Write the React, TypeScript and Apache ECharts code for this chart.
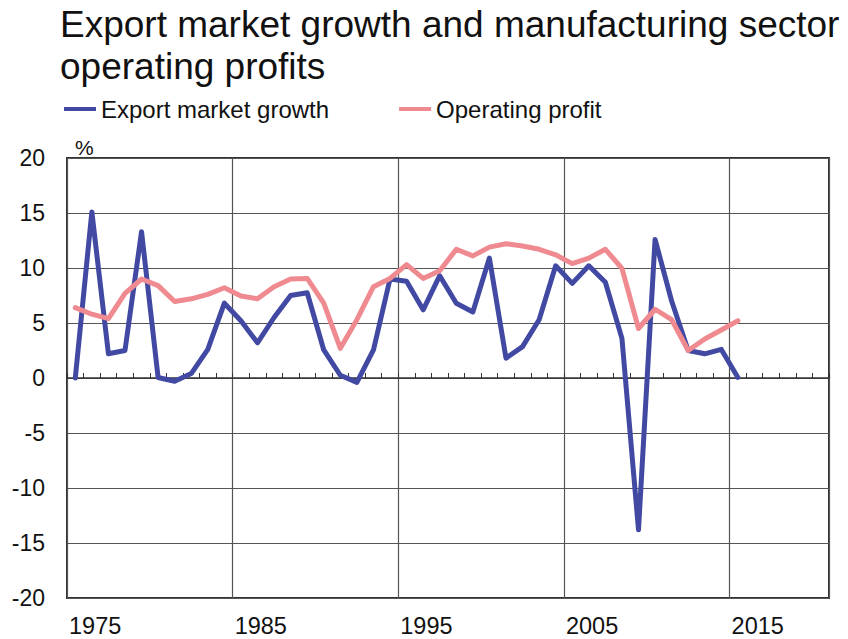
import React, { useEffect, useRef } from 'react';
import * as echarts from 'echarts';

const TITLE = 'Export market growth and manufacturing sector\noperating profits';
const SERIES_NAMES = ['Export market growth', 'Operating profit'];

const years = [
  1975, 1976, 1977, 1978, 1979, 1980, 1981, 1982, 1983, 1984,
  1985, 1986, 1987, 1988, 1989, 1990, 1991, 1992, 1993, 1994,
  1995, 1996, 1997, 1998, 1999, 2000, 2001, 2002, 2003, 2004,
  2005, 2006, 2007, 2008, 2009, 2010, 2011, 2012, 2013, 2014,
  2015,
];

const exportGrowth = [
  0.0, 15.1, 2.2, 2.5, 13.3, 0.05, -0.3, 0.4, 2.6, 6.8,
  5.2, 3.2, 5.5, 7.5, 7.75, 2.55, 0.25, -0.4, 2.55, 9.0,
  8.8, 6.2, 9.3, 6.8, 6.0, 10.9, 1.8, 2.85, 5.3, 10.2,
  8.6, 10.2, 8.7, 3.6, -13.8, 12.6, 7.0, 2.5, 2.2, 2.6,
  0.05,
];

const operatingProfit = [
  6.4, 5.8, 5.4, 7.7, 9.0, 8.4, 6.95, 7.2, 7.6, 8.2,
  7.45, 7.2, 8.3, 9.0, 9.05, 6.8, 2.7, 5.3, 8.3, 9.05,
  10.3, 9.05, 9.75, 11.7, 11.1, 11.9, 12.2, 12.0, 11.7, 11.2,
  10.4, 10.9, 11.7, 9.97, 4.5, 6.25, 5.3, 2.5, 3.55, 4.36,
  5.2,
];

const xLabelYears = [1975, 1985, 1995, 2005, 2015];
const X_MIN = 1974.5;
const X_MAX = 2020.5;
const Y_MIN = -20;
const Y_MAX = 20;
const Y_STEP = 5;

const FONT = '"Liberation Sans", Arial, Helvetica, sans-serif';
const BLUE = '#4249a3';
const PINK = '#ef8a90';
const INK = '#111111';

export default function App() {
  const ref = useRef<HTMLDivElement>(null);

  useEffect(() => {
    if (!ref.current) return;
    const chart = echarts.init(ref.current, undefined, { renderer: 'svg' });

    const pairs = (vals: number[]) => years.map((y, i) => [y, vals[i]]);

    chart.setOption({
      animation: false,
      backgroundColor: '#ffffff',
      textStyle: { fontFamily: FONT },
      title: {
        text: TITLE,
        left: 60,
        top: 3,
        padding: 0,
        textStyle: {
          fontFamily: FONT,
          fontSize: 37,
          fontWeight: 'normal',
          color: INK,
          lineHeight: 42,
        },
      },
      legend: {
        data: SERIES_NAMES,
        left: 64,
        top: 97,
        padding: 0,
        itemGap: 70,
        itemWidth: 32,
        itemHeight: 4,
        icon: 'rect',
        textStyle: { fontFamily: FONT, fontSize: 24, color: INK },
      },
      grid: {
        left: 67,
        right: 19,
        top: 158,
        bottom: 41,
        show: true,
        borderColor: '#333333',
        borderWidth: 2,
        backgroundColor: 'transparent',
        containLabel: false,
      },
      xAxis: [
        {
          type: 'value',
          min: X_MIN,
          max: X_MAX,
          interval: 10,
          position: 'bottom',
          axisLine: { show: false, onZero: false },
          axisTick: { show: false },
          splitLine: { show: true, lineStyle: { color: '#555555', width: 1.2 } },
          axisLabel: {
            show: true,
            align: 'left',
            margin: 16,
            padding: [0, 0, 0, 2],
            fontFamily: FONT,
            fontSize: 23.5,
            color: INK,
            showMinLabel: true,
            showMaxLabel: true,
            formatter: (v: number) => {
              const y = Math.round(v + 0.5);
              return xLabelYears.includes(y) ? String(y) : '';
            },
          },
        },
        {
          type: 'value',
          min: X_MIN,
          max: X_MAX,
          interval: 1,
          position: 'top',
          axisLine: { show: true, onZero: true, lineStyle: { color: '#333333', width: 1.5 } },
          axisTick: { show: true, inside: false, length: 5, lineStyle: { color: '#333333', width: 1 } },
          axisLabel: { show: false },
          splitLine: { show: false },
        },
      ],
      yAxis: {
        type: 'value',
        min: Y_MIN,
        max: Y_MAX,
        interval: Y_STEP,
        name: '%',
        nameLocation: 'end',
        nameGap: 0,
        nameTextStyle: {
          fontFamily: FONT,
          fontSize: 21,
          color: INK,
          align: 'left',
          verticalAlign: 'bottom',
          padding: [0, 0, 0, 8],
        },
        axisLine: { show: false },
        axisTick: { show: false },
        splitLine: { show: true, lineStyle: { color: '#555555', width: 1.2 } },
        axisLabel: {
          margin: 22,
          fontFamily: FONT,
          fontSize: 23,
          color: INK,
        },
      },
      series: [
        {
          name: SERIES_NAMES[0],
          type: 'line',
          xAxisIndex: 0,
          data: pairs(exportGrowth),
          showSymbol: false,
          symbol: 'none',
          color: BLUE,
          lineStyle: { color: BLUE, width: 5, join: 'round', cap: 'round' },
          z: 3,
        },
        {
          name: SERIES_NAMES[1],
          type: 'line',
          xAxisIndex: 0,
          data: pairs(operatingProfit),
          showSymbol: false,
          symbol: 'none',
          color: PINK,
          lineStyle: { color: PINK, width: 5, join: 'round', cap: 'round' },
          z: 4,
        },
      ],
    });

    return () => {
      chart.dispose();
    };
  }, []);

  return (
    <div
      ref={ref}
      style={{ position: 'fixed', left: 0, top: 0, width: 848, height: 639, background: '#fff' }}
    />
  );
}
